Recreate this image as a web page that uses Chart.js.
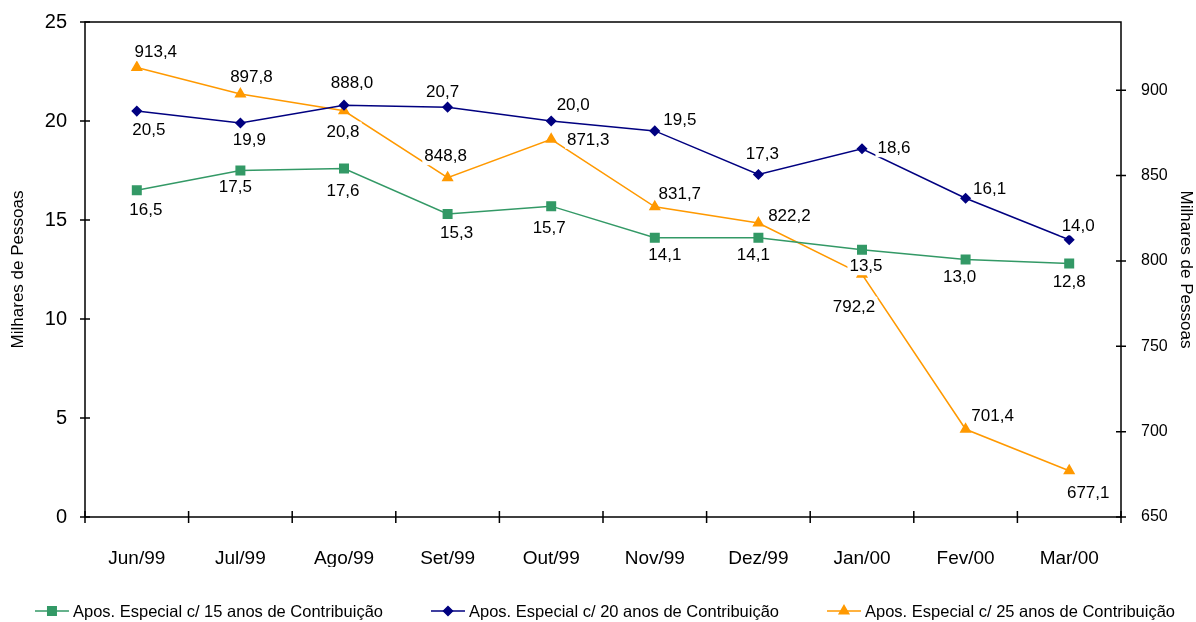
<!DOCTYPE html>
<html><head><meta charset="utf-8">
<script src="https://cdn.jsdelivr.net/npm/chart.js@4.4.1/dist/chart.umd.min.js"></script>
<style>html,body{margin:0;padding:0;background:#fff}#wrap{width:1196px;height:622px;position:relative}</style>
</head><body><div id="wrap"><canvas id="c"></canvas></div>
<script>
const categories = ['Jun/99','Jul/99','Ago/99','Set/99','Out/99','Nov/99','Dez/99','Jan/00','Fev/00','Mar/00'];
const seriesNames = [
  'Apos. Especial c/ 15 anos de Contribuição',
  'Apos. Especial c/ 20 anos de Contribuição',
  'Apos. Especial c/ 25 anos de Contribuição'
];
const values15 = [16.5, 17.5, 17.6, 15.3, 15.7, 14.1, 14.1, 13.5, 13.0, 12.8];
const values20 = [20.5, 19.9, 20.8, 20.7, 20.0, 19.5, 17.3, 18.6, 16.1, 14.0];
const values25 = [913.4, 897.8, 888.0, 848.8, 871.3, 831.7, 822.2, 792.2, 701.4, 677.1];
const leftTicks = [0, 5, 10, 15, 20, 25];
const rightTicks = [650, 700, 750, 800, 850, 900];
const axisTitle = 'Milhares de Pessoas';

// label placement (offset of label centre from its point), kept apart from the data
const labelOffsets15 = [[9,19],[-5,16],[-1,22],[9,18],[-2,21],[10,16],[-5,16],[4,16],[-6,17],[0,18]];
const labelOffsets20 = [[12,18],[9,16],[-1,26],[-5,-16],[22,-17],[25,-12],[4,-21],[32,-1],[24,-10],[9,-14]];
const labelOffsets25 = [[19,-16],[11,-18],[8,-28],[-2,-22],[37,0],[25,-14],[31,-8],[-8,32],[27,-14],[19,22]];

const FONT = '"Liberation Sans", Arial, sans-serif';
const colors = ['#339966', '#000080', '#FF9900'];
const fmt = v => v.toFixed(1).replace('.', ',');

const overlay = {
  id: 'overlay',
  beforeDatasetsDraw(chart) {
    const ctx = chart.ctx, a = chart.chartArea;
    const y = chart.scales.y, y1 = chart.scales.y1;
    ctx.save();
    ctx.strokeStyle = '#000';
    ctx.lineWidth = 1.5;
    ctx.beginPath();
    ctx.rect(a.left, a.top, a.right - a.left, a.bottom - a.top);
    ctx.stroke();
    ctx.beginPath();
    leftTicks.forEach(v => { const p = y.getPixelForValue(v); ctx.moveTo(a.left - 5, p); ctx.lineTo(a.left + 5, p); });
    rightTicks.forEach(v => { const p = y1.getPixelForValue(v); ctx.moveTo(a.right - 5, p); ctx.lineTo(a.right + 5, p); });
    const w = (a.right - a.left) / categories.length;
    for (let i = 0; i <= categories.length; i++) {
      const px = a.left + i * w;
      ctx.moveTo(px, a.bottom - 6); ctx.lineTo(px, a.bottom + 6);
    }
    ctx.stroke();
    ctx.restore();
  },
  afterDatasetsDraw(chart) {
    const ctx = chart.ctx;
    const offs = [labelOffsets15, labelOffsets20, labelOffsets25];
    ctx.save();
    ctx.font = '17px ' + FONT;
    ctx.textAlign = 'center';
    ctx.textBaseline = 'middle';
    chart.data.datasets.forEach((ds, di) => {
      const meta = chart.getDatasetMeta(di);
      meta.data.forEach((pt, i) => {
        const t = fmt(ds.data[i]);
        const cx = pt.x + offs[di][i][0], cy = pt.y + offs[di][i][1];
        const tw = ctx.measureText(t).width;
        ctx.fillStyle = '#fff';
        ctx.fillRect(cx - tw / 2 - 2, cy - 9.5, tw + 4, 19);
        ctx.fillStyle = '#000';
        ctx.fillText(t, cx, cy + 1);
      });
    });
    ctx.restore();
  },
  afterDraw(chart) {
    const ctx = chart.ctx, a = chart.chartArea;
    ctx.save();
    ctx.font = '16.5px ' + FONT;
    const lineLen = 34, gapText = 4, gapItem = 48, yC = 611;
    const widths = seriesNames.map(n => lineLen + gapText + ctx.measureText(n).width);
    const total = widths.reduce((s, w) => s + w, 0) + gapItem * (seriesNames.length - 1);
    let x0 = (a.left + a.right) / 2 - total / 2 + 2;
    const styles = ['rect', 'rectRot', 'triangle'];
    const radii = [6, 4.5, 5.5];
    seriesNames.forEach((n, i) => {
      ctx.strokeStyle = colors[i];
      ctx.lineWidth = 1.5;
      ctx.beginPath(); ctx.moveTo(x0, yC); ctx.lineTo(x0 + lineLen, yC); ctx.stroke();
      ctx.fillStyle = colors[i];
      Chart.helpers.drawPoint(ctx, { pointStyle: styles[i], radius: radii[i], borderWidth: 1 }, x0 + lineLen / 2, yC);
      ctx.fillStyle = '#000';
      ctx.textAlign = 'left';
      ctx.textBaseline = 'middle';
      ctx.fillText(n, x0 + lineLen + gapText, yC + 1);
      x0 += widths[i] + gapItem;
    });
    ctx.restore();
  }
};

const ds = (label, data, i, style, r, axis) => ({
  label, data, yAxisID: axis,
  borderColor: colors[i], backgroundColor: colors[i],
  pointBackgroundColor: colors[i], pointBorderColor: colors[i],
  pointStyle: style, pointRadius: r, pointHoverRadius: r,
  borderWidth: 1.5, tension: 0, fill: false, clip: false
});

new Chart(document.getElementById('c'), {
  type: 'line',
  data: {
    labels: categories,
    datasets: [
      ds(seriesNames[0], values15, 0, 'rect', 6, 'y'),
      ds(seriesNames[1], values20, 1, 'rectRot', 4.5, 'y'),
      ds(seriesNames[2], values25, 2, 'triangle', 5.5, 'y1')
    ]
  },
  options: {
    responsive: true, maintainAspectRatio: false, animation: false,
    layout: { padding: { left: 4, right: 0, top: 22, bottom: 55 } },
    plugins: { legend: { display: false }, tooltip: { enabled: false } },
    scales: {
      x: {
        offset: true,
        grid: { display: false }, border: { display: false },
        ticks: { color: '#000', font: { family: FONT, size: 19 }, padding: 22, maxRotation: 0, autoSkip: false },
        afterFit: s => { s.height = 50; }
      },
      y: {
        position: 'left', min: 0, max: 25,
        grid: { display: false }, border: { display: false },
        ticks: { stepSize: 5, color: '#000', font: { family: FONT, size: 20 }, padding: 10 },
        afterBuildTicks: s => { s.ticks = leftTicks.map(v => ({ value: v })); },
        title: { display: true, text: axisTitle, color: '#000', font: { family: FONT, size: 17 }, padding: { top: 4, bottom: 0 } },
        afterFit: s => { s.width = 81; }
      },
      y1: {
        position: 'right', min: 650, max: 940,
        grid: { display: false }, border: { display: false },
        ticks: { stepSize: 50, color: '#000', font: { family: FONT, size: 16 }, padding: 12 },
        afterBuildTicks: s => { s.ticks = rightTicks.map(v => ({ value: v })); },
        title: { display: true, text: axisTitle, color: '#000', font: { family: FONT, size: 17 }, padding: { top: 0, bottom: 0 } },
        afterFit: s => { s.width = 75; }
      }
    }
  },
  plugins: [overlay]
});
</script></body></html>
